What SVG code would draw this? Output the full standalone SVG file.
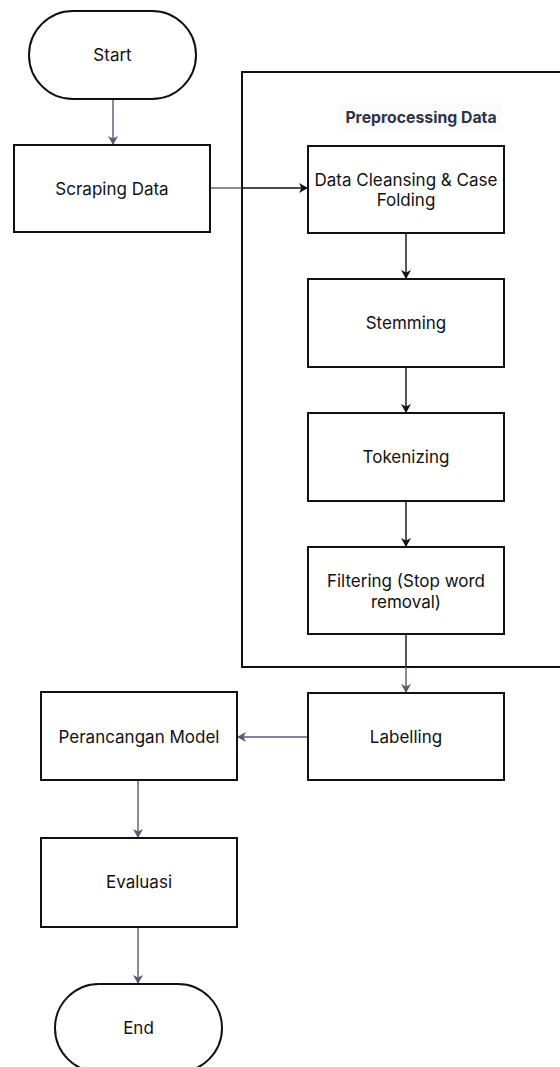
<svg xmlns="http://www.w3.org/2000/svg" width="560" height="1067" viewBox="0 0 560 1067">
<style>
.box{fill:#fff;stroke:#111;stroke-width:2}
.t{font-family:Inter,"Liberation Sans",sans-serif;font-size:17px;fill:#111;text-anchor:middle;dominant-baseline:central}
.h{font-family:Inter,"Liberation Sans",sans-serif;font-size:15.8px;font-weight:bold;fill:#2e3345;text-anchor:middle;dominant-baseline:central}
.c{fill:none;stroke:#555b75;stroke-width:1.4}
.k{fill:none;stroke:#111;stroke-width:1.4}
</style>
<defs>
<marker id="as" markerWidth="10" markerHeight="10" refX="8" refY="5" orient="auto" markerUnits="userSpaceOnUse">
<path d="M0,0 L9,5 L0,10 L2.5,5 Z" fill="#555b75"/>
</marker>
<marker id="ak" markerWidth="10" markerHeight="10" refX="8" refY="5" orient="auto" markerUnits="userSpaceOnUse">
<path d="M0,0 L9,5 L0,10 L2.5,5 Z" fill="#111"/>
</marker>
</defs>
<rect width="560" height="1067" fill="#fff"/>
<g id="container">
<rect x="242" y="72" width="330" height="595" fill="none" stroke="#111" stroke-width="2"/>
<rect x="340" y="103" width="162" height="28" fill="#fbfbfc"/>
<text class="h" x="421" y="117">Preprocessing Data</text>
</g>
<g id="connectors">
<path class="c" d="M113,99 V144" marker-end="url(#as)"/>
<path class="c" d="M210,188 H242"/>
<path class="k" d="M242,188 H307" marker-end="url(#ak)"/>
<path class="k" d="M406,233 V278" marker-end="url(#ak)"/>
<path class="k" d="M406,367 V412" marker-end="url(#ak)"/>
<path class="k" d="M406,501 V546" marker-end="url(#ak)"/>
<path class="k" d="M406,634 V667"/>
<path class="c" d="M406,667 V692" marker-end="url(#as)"/>
<path class="c" d="M308,737 H238" marker-end="url(#as)"/>
<path class="c" d="M138,780 V837" marker-end="url(#as)"/>
<path class="c" d="M138,927 V983" marker-end="url(#as)"/>
</g>
<g id="start">
<rect class="box" x="29" y="11" width="167" height="88" rx="44" ry="44"/>
<text class="t" x="112.5" y="55">Start</text>
</g>
<g id="scraping">
<rect class="box" x="14" y="145" width="196" height="87"/>
<text class="t" x="112" y="189">Scraping Data</text>
</g>
<g id="cleansing">
<rect class="box" x="308" y="146" width="196" height="87"/>
<text class="t" x="406" y="180">Data Cleansing &amp; Case</text>
<text class="t" x="406" y="200">Folding</text>
</g>
<g id="stemming">
<rect class="box" x="308" y="279" width="196" height="88"/>
<text class="t" x="406" y="323">Stemming</text>
</g>
<g id="tokenizing">
<rect class="box" x="308" y="413" width="196" height="88"/>
<text class="t" x="406" y="457">Tokenizing</text>
</g>
<g id="filtering">
<rect class="box" x="308" y="547" width="196" height="87"/>
<text class="t" x="406" y="581">Filtering (Stop word</text>
<text class="t" x="406" y="602">removal)</text>
</g>
<g id="labelling">
<rect class="box" x="308" y="693" width="196" height="87"/>
<text class="t" x="406" y="737">Labelling</text>
</g>
<g id="perancangan">
<rect class="box" x="41" y="692" width="196" height="88"/>
<text class="t" x="139" y="737">Perancangan Model</text>
</g>
<g id="evaluasi">
<rect class="box" x="41" y="838" width="196" height="89"/>
<text class="t" x="139" y="882">Evaluasi</text>
</g>
<g id="end">
<rect class="box" x="55" y="984" width="167" height="88" rx="44" ry="44"/>
<text class="t" x="138.5" y="1028">End</text>
</g>
</svg>
